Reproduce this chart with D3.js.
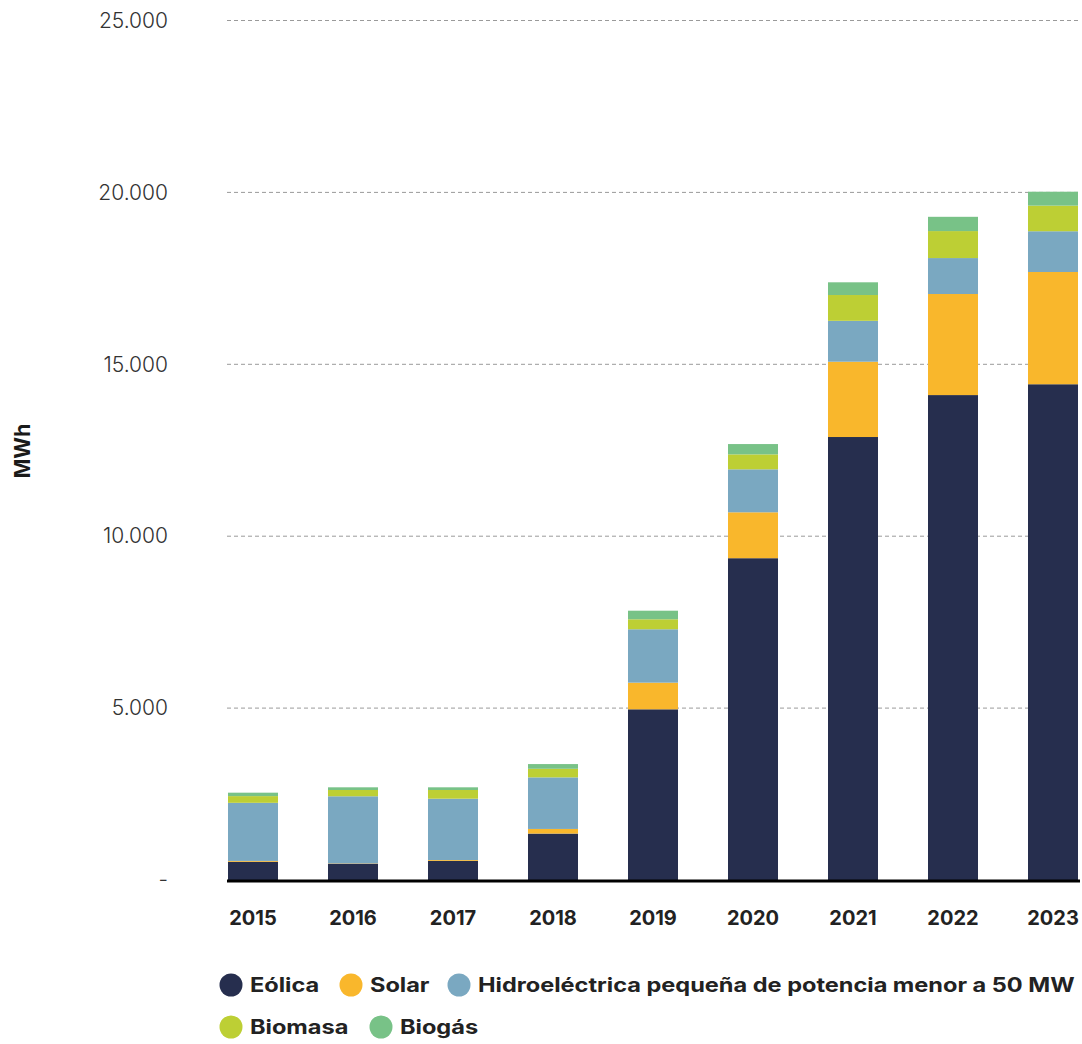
<!DOCTYPE html>
<html>
<head>
<meta charset="utf-8">
<script src="https://cdn.jsdelivr.net/npm/d3@7"></script>
<style>
  html, body { margin: 0; padding: 0; background: #fff; }
  svg { display: block; font-family: Inter, "Open Sans", sans-serif; }
</style>
</head>
<body>
<div id="chart"></div>
<script>
const years = ['2015', '2016', '2017', '2018', '2019', '2020', '2021', '2022', '2023'];
const seriesNames = ['Eólica', 'Solar', 'Hidroeléctrica pequeña de potencia menor a 50 MW', 'Biomasa', 'Biogás'];
const seriesKeys = ['eolica', 'solar', 'hidro', 'biomasa', 'biogas'];
const colors = ['#262e4e', '#f9b72c', '#7aa8c1', '#bdcf34', '#78c287'];

// MWh
const eolica  = [530, 475, 555, 1350, 4965, 9360, 12885, 14105, 14420];
const solar   = [25, 10, 25, 135, 775, 1335, 2190, 2940, 3265];
const hidro   = [1690, 1950, 1785, 1500, 1553, 1250, 1190, 1045, 1185];
const biomasa = [195, 183, 253, 250, 290, 435, 750, 785, 745];
const biogas  = [100, 78, 78, 137, 250, 300, 370, 415, 405];

const yTicks = [0, 5000, 10000, 15000, 20000, 25000];

const W = 1082, H = 1044;
const values = [eolica, solar, hidro, biomasa, biogas];
const table = years.map((y, i) => {
  const row = { year: y };
  seriesKeys.forEach((k, j) => row[k] = values[j][i]);
  return row;
});

const svg = d3.select('#chart').append('svg')
  .attr('width', W).attr('height', H)
  .attr('viewBox', `0 0 ${W} ${H}`);

const x = d3.scaleBand().domain(years).range([203, 1103]).paddingInner(0.5).paddingOuter(0.25);
const y = d3.scaleLinear().domain([0, 25000]).range([880, 20.5]);

const locale = d3.formatLocale({ decimal: ',', thousands: '.', grouping: [3], currency: ['', ''] });
const fmt = locale.format(',.0f');

// gridlines
svg.append('g')
  .selectAll('line')
  .data(yTicks.filter(d => d > 0))
  .join('line')
  .attr('x1', 227).attr('x2', 1080)
  .attr('y1', d => y(d)).attr('y2', d => y(d))
  .attr('stroke', '#9a9a9a')
  .attr('stroke-width', 1)
  .attr('stroke-dasharray', '4,3');

// y axis labels
svg.append('g')
  .attr('transform', 'translate(168,0)')
  .call(d3.axisLeft(y).tickValues(yTicks).tickSize(0).tickPadding(0)
    .tickFormat(d => d === 0 ? '-' : fmt(d)))
  .call(g => g.select('.domain').remove())
  .call(g => g.selectAll('text')
    .attr('font-size', '21px')
    .attr('font-weight', 300)
    .attr('font-family', 'Inter, sans-serif')
    .attr('fill', '#333'));

svg.append('text')
  .attr('transform', 'translate(30,451) rotate(-90)')
  .attr('text-anchor', 'middle')
  .attr('font-size', '21px')
  .attr('font-weight', 700)
  .attr('fill', '#1a1a1a')
  .text('MWh');

// stacked bars
const stack = d3.stack().keys(seriesKeys)(table);
svg.append('g')
  .selectAll('g')
  .data(stack)
  .join('g')
  .attr('fill', (d, i) => colors[i])
  .selectAll('rect')
  .data(d => d)
  .join('rect')
  .attr('x', d => x(d.data.year))
  .attr('width', x.bandwidth())
  .attr('y', d => y(d[1]))
  .attr('height', d => y(d[0]) - y(d[1]));

// baseline
svg.append('line')
  .attr('x1', 227).attr('x2', 1080)
  .attr('y1', y(0) + 1).attr('y2', y(0) + 1)
  .attr('stroke', '#000').attr('stroke-width', 3);

// x axis labels
svg.append('g')
  .attr('transform', `translate(0,${y(0) + 17})`)
  .call(d3.axisBottom(x).tickSize(0).tickPadding(14))
  .call(g => g.select('.domain').remove())
  .call(g => g.selectAll('text')
    .attr('font-size', '20px')
    .attr('font-weight', 700)
    .attr('font-family', 'Inter, sans-serif')
    .attr('fill', '#222'));

// legend - the original font is wider, so stretch text to the long label's width
const legendPos = [[231, 985], [351, 985], [459, 985], [231, 1027], [381, 1027]];
const leg = svg.append('g').selectAll('g')
  .data(seriesNames)
  .join('g')
  .attr('transform', (d, i) => `translate(${legendPos[i][0]},${legendPos[i][1]})`);
leg.append('circle').attr('r', 11.5).attr('fill', (d, i) => colors[i]);
const legText = leg.append('text')
  .attr('dy', '0.35em')
  .attr('font-size', '20px')
  .attr('font-weight', 700)
  .attr('fill', '#222')
  .text(d => d);
const sx = 597 / legText.filter((d, i) => i === 2).node().getComputedTextLength();
legText.attr('transform', `translate(19,0) scale(${sx},1)`);
</script>
</body>
</html>
